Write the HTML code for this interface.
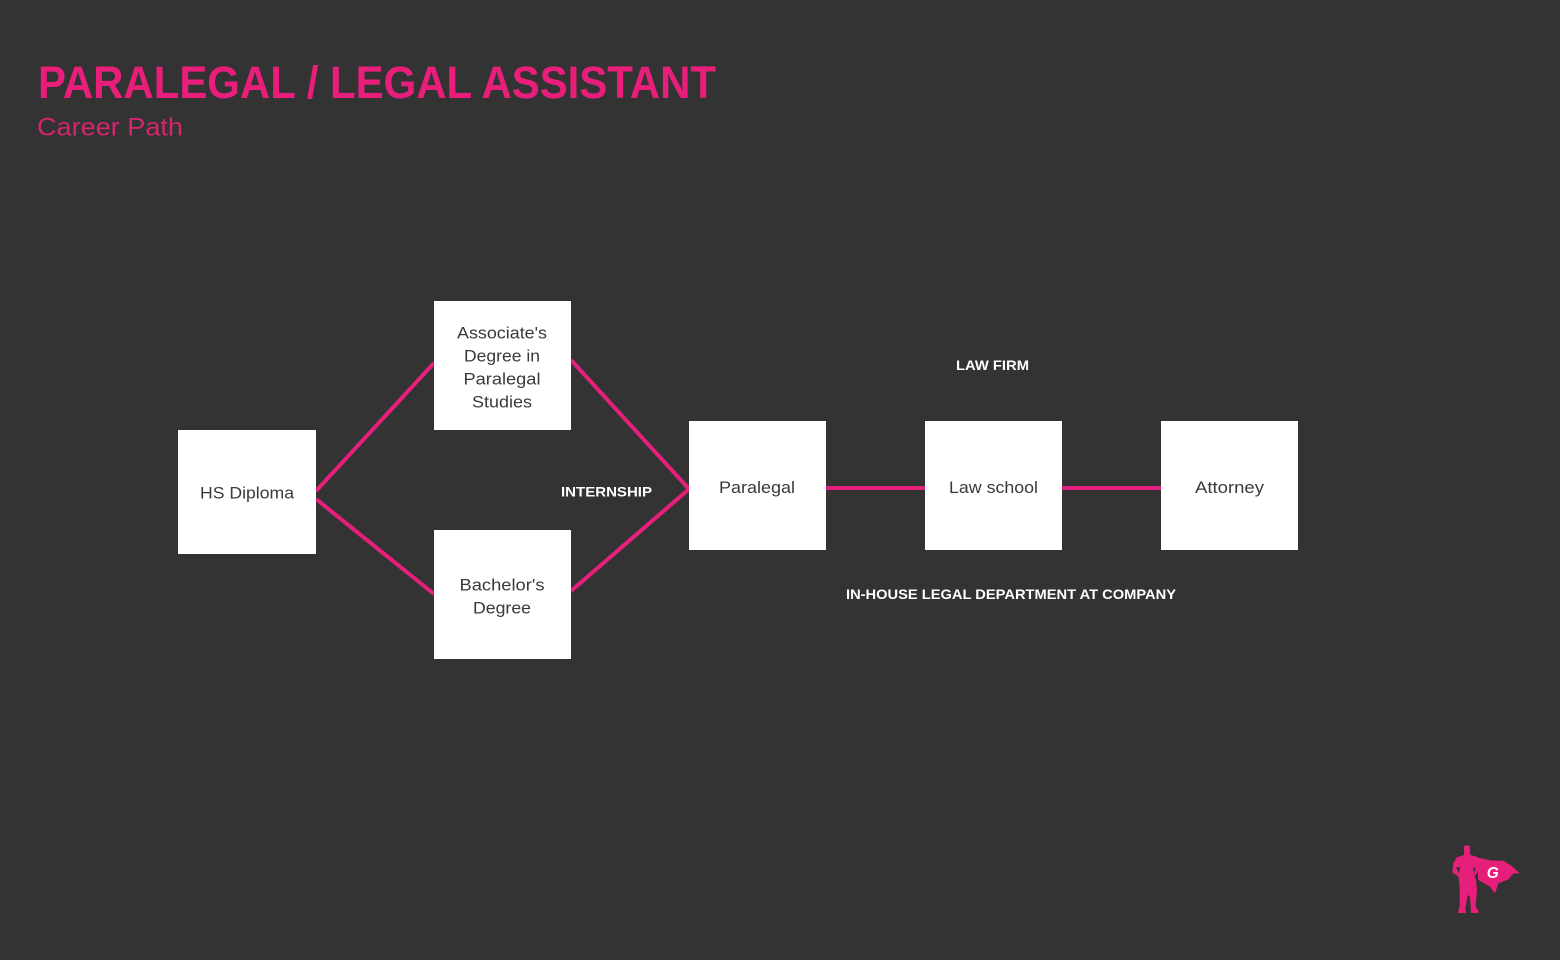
<!DOCTYPE html>
<html>
<head>
<meta charset="utf-8">
<style>
  html, body { margin: 0; padding: 0; background: #333333; }
  body { width: 1560px; height: 960px; overflow: hidden; }
  svg { display: block; }
  .box { fill: #ffffff; }
  .bt { font-family: "Liberation Sans", sans-serif; font-size: 16.5px; fill: #3a3a3a; text-anchor: middle; }
  .lbl { font-family: "Liberation Sans", sans-serif; font-size: 14px; font-weight: bold; fill: #ffffff; }
  .ln { stroke: #e6207a; stroke-width: 4; fill: none; }
</style>
</head>
<body>
<svg width="1560" height="960" viewBox="0 0 1560 960" xmlns="http://www.w3.org/2000/svg">
  <rect x="0" y="0" width="1560" height="960" fill="#333333"/>

  <!-- Title -->
  <text x="38" y="98" font-family="Liberation Sans, sans-serif" font-weight="bold" font-size="45" fill="#e91e7b" textLength="678" lengthAdjust="spacingAndGlyphs">PARALEGAL / LEGAL ASSISTANT</text>
  <text x="37" y="135.5" font-family="Liberation Sans, sans-serif" font-size="25" fill="#d6246f" textLength="146" lengthAdjust="spacingAndGlyphs">Career Path</text>

  <!-- Connectors -->
  <line class="ln" x1="316" y1="491" x2="434" y2="363"/>
  <line class="ln" x1="316" y1="499" x2="434" y2="594"/>
  <line class="ln" x1="571" y1="360" x2="689" y2="489"/>
  <line class="ln" x1="571" y1="591" x2="689" y2="489"/>
  <line class="ln" x1="826" y1="488" x2="925" y2="488"/>
  <line class="ln" x1="1062" y1="488" x2="1161" y2="488"/>

  <!-- Boxes -->
  <rect class="box" x="178" y="430" width="138" height="124"/>
  <rect class="box" x="434" y="301" width="137" height="129"/>
  <rect class="box" x="434" y="530" width="137" height="129"/>
  <rect class="box" x="689" y="421" width="137" height="129"/>
  <rect class="box" x="925" y="421" width="137" height="129"/>
  <rect class="box" x="1161" y="421" width="137" height="129"/>

  <!-- Box texts -->
  <text class="bt" x="247" y="498.5" textLength="94" lengthAdjust="spacingAndGlyphs">HS Diploma</text>
  <text class="bt" x="502" y="338.5" textLength="90" lengthAdjust="spacingAndGlyphs">Associate's</text>
  <text class="bt" x="502" y="361.5" textLength="76" lengthAdjust="spacingAndGlyphs">Degree in</text>
  <text class="bt" x="502" y="384.5" textLength="77" lengthAdjust="spacingAndGlyphs">Paralegal</text>
  <text class="bt" x="502" y="407.5" textLength="60" lengthAdjust="spacingAndGlyphs">Studies</text>
  <text class="bt" x="502" y="590.5" textLength="85" lengthAdjust="spacingAndGlyphs">Bachelor's</text>
  <text class="bt" x="502" y="613.5" textLength="58" lengthAdjust="spacingAndGlyphs">Degree</text>
  <text class="bt" x="757" y="493" textLength="76" lengthAdjust="spacingAndGlyphs">Paralegal</text>
  <text class="bt" x="993.5" y="493" textLength="89" lengthAdjust="spacingAndGlyphs">Law school</text>
  <text class="bt" x="1229.5" y="493" textLength="69" lengthAdjust="spacingAndGlyphs">Attorney</text>

  <!-- Labels -->
  <text class="lbl" x="956" y="370" textLength="73" lengthAdjust="spacingAndGlyphs">LAW FIRM</text>
  <text class="lbl" x="561" y="496.5" textLength="91" lengthAdjust="spacingAndGlyphs">INTERNSHIP</text>
  <text class="lbl" x="846" y="599" textLength="330" lengthAdjust="spacingAndGlyphs">IN-HOUSE LEGAL DEPARTMENT AT COMPANY</text>

  <!-- Logo -->
  <g transform="translate(1445,840) scale(0.3333)">
    <path fill="#e6207a" d="M95,52 L140,62 L175,62 L200,78 L225,100 L205,100 L190,118 L160,130 L150,160 L135,140 L100,120 Z"/>
    <path fill="#e6207a" d="M57,20 Q57,16 66,16 Q75,16 75,20 L76,45 L95,50 L100,60 L101,80 L96,100 L88,108 L93,118 L96,150 L92,200 L101,214 L100,219 L78,219 L75,170 L68,165 L61,205 L63,219 L38,219 L44,200 L44,150 L42,120 L40,110 L22,97 L25,70 L35,52 L57,45 Z"/>
    <path fill="#333333" d="M33,82 L42,100 L46,82 Z"/>
    <path fill="#333333" d="M92,82 L88,100 L84,84 Z"/>
    <text x="143" y="114" font-family="Liberation Sans, sans-serif" font-weight="bold" font-style="italic" font-size="46" fill="#ffffff" text-anchor="middle">G</text>
  </g>
</svg>
</body>
</html>
